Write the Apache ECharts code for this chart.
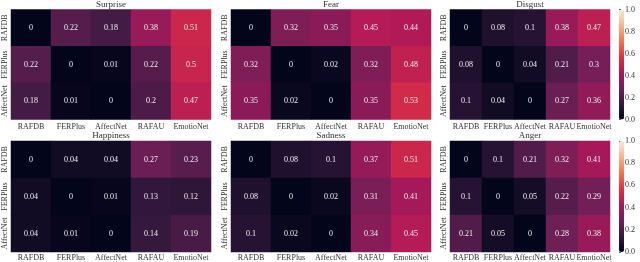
<!DOCTYPE html>
<html><head><meta charset="utf-8">
<script src="https://cdn.jsdelivr.net/npm/echarts@6/dist/echarts.min.js"></script>
<style>html,body{margin:0;padding:0;background:#fff}#c{width:640px;height:262px}</style>
</head><body><div id="c"></div>
<script>
const xCats = ['RAFDB', 'FERPlus', 'AffectNet', 'RAFAU', 'EmotioNet'];
const yCats = ['RAFDB', 'FERPlus', 'AffectNet'];
const titles = ['Surprise', 'Fear', 'Disgust', 'Happiness', 'Sadness', 'Anger'];
const surprise = [[0, 0.22, 0.18, 0.38, 0.51], [0.22, 0, 0.01, 0.22, 0.5], [0.18, 0.01, 0, 0.2, 0.47]];
const fear = [[0, 0.32, 0.35, 0.45, 0.44], [0.32, 0, 0.02, 0.32, 0.48], [0.35, 0.02, 0, 0.35, 0.53]];
const disgust = [[0, 0.08, 0.1, 0.38, 0.47], [0.08, 0, 0.04, 0.21, 0.3], [0.1, 0.04, 0, 0.27, 0.36]];
const happiness = [[0, 0.04, 0.04, 0.27, 0.23], [0.04, 0, 0.01, 0.13, 0.12], [0.04, 0.01, 0, 0.14, 0.19]];
const sadness = [[0, 0.08, 0.1, 0.37, 0.51], [0.08, 0, 0.02, 0.31, 0.41], [0.1, 0.02, 0, 0.34, 0.45]];
const anger = [[0, 0.1, 0.21, 0.32, 0.41], [0.1, 0, 0.05, 0.22, 0.29], [0.21, 0.05, 0, 0.28, 0.38]];
const matrices = [surprise, fear, disgust, happiness, sadness, anger];
const cbTicks = [0, 0.2, 0.4, 0.6, 0.8, 1.0];
const rocket = ['#03051a', '#35193e', '#701f57', '#ad1759', '#e13342', '#f37651', '#f6b48f', '#faebdd'];

const FONT = 'Liberation Serif';
const panelX = [[11, 200], [231, 200], [450, 160]];
const rowY = [[9.5, 110], [141, 111]];
const grids = [], xAxes = [], yAxes = [], series = [], graphics = [];
matrices.forEach((m, i) => {
  const r = Math.floor(i / 3), c = i % 3;
  grids.push({left: panelX[c][0], width: panelX[c][1], top: rowY[r][0], height: rowY[r][1]});
  xAxes.push({type: 'category', gridIndex: i, data: xCats, axisLine: {show: false}, axisTick: {show: false},
    splitLine: {show: false},
    axisLabel: {interval: 0, hideOverlap: false, overflow: 'none', fontFamily: FONT, fontSize: 8, color: '#333',
      margin: r === 0 ? 3 : 2, verticalAlign: 'top'}});
  yAxes.push({type: 'category', gridIndex: i, data: yCats, inverse: true, axisLine: {show: false}, axisTick: {show: false},
    splitLine: {show: false},
    axisLabel: {interval: 0, hideOverlap: false, rotate: 90, fontFamily: FONT, fontSize: 8, color: '#333', margin: 2,
      align: 'center', verticalAlign: 'bottom'}});
  const data = [];
  m.forEach((row, yi) => row.forEach((v, xi) => data.push([xi, yi, v])));
  series.push({type: 'heatmap', xAxisIndex: i, yAxisIndex: i, data: data,
    label: {show: true, fontFamily: FONT, fontSize: 8, color: '#eeeeee', formatter: p => String(p.value[2])},
    itemStyle: {borderWidth: 0}, emphasis: {disabled: true}});
  graphics.push({type: 'text', silent: true, x: panelX[c][0] + panelX[c][1] / 2, y: r === 0 ? 4.5 : 136,
    style: {text: titles[i], fill: '#333', font: '9px "' + FONT + '"', textAlign: 'center', textVerticalAlign: 'middle'}});
});
// colorbar tick axes
[0, 1].forEach(r => {
  grids.push({left: 619, width: 5, top: rowY[r][0], height: rowY[r][1]});
  const gi = grids.length - 1;
  xAxes.push({type: 'value', gridIndex: gi, show: false});
  yAxes.push({type: 'value', gridIndex: gi, min: 0, max: 1, interval: 0.2, position: 'right',
    axisLine: {show: false}, splitLine: {show: false},
    axisTick: {show: true, length: 2, lineStyle: {color: '#333', width: 0.8}},
    axisLabel: {fontFamily: FONT, fontSize: 8, color: '#333', margin: 1, formatter: v => v.toFixed(1)}});
});
const visualMaps = [0, 1].map(r => ({
  type: 'continuous', min: 0, max: 1, seriesIndex: [r * 3, r * 3 + 1, r * 3 + 2],
  orient: 'vertical', left: 619, top: rowY[r][0], itemWidth: 5, itemHeight: rowY[r][1],
  padding: 0, text: null, calculable: false, hoverLink: false, showLabel: false,
  inRange: {color: rocket}
}));
const chart = echarts.init(document.getElementById('c'), null, {renderer: 'canvas'});
chart.setOption({
  animation: false,
  grid: grids, xAxis: xAxes, yAxis: yAxes,
  visualMap: visualMaps,
  series: series,
  graphic: graphics
});
</script></body></html>
